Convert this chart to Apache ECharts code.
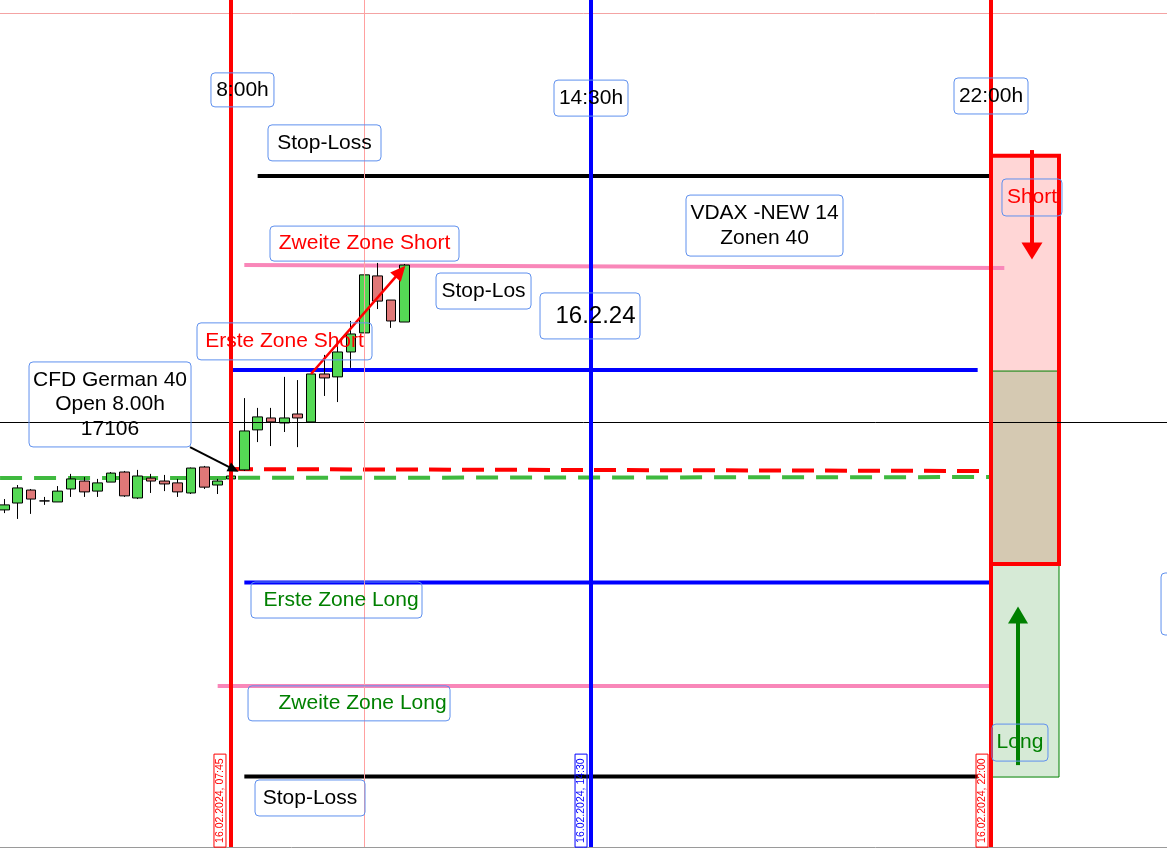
<!DOCTYPE html>
<html><head><meta charset="utf-8">
<script src="https://cdn.jsdelivr.net/npm/echarts@6/dist/echarts.min.js"></script>
<style>html,body{margin:0;padding:0;background:#fff}#c{width:1167px;height:857px}</style>
</head><body><div id="c"></div>
<script>
// ================= DATA =================
// 15-minute candles, CFD German 40, 16.02.2024
const candleTimes = ['03:30','03:45','04:00','04:15','04:30','04:45','05:00','05:15','05:30','05:45',
  '06:00','06:15','06:30','06:45','07:00','07:15','07:30','07:45','08:00','08:15','08:30','08:45',
  '09:00','09:15','09:30','09:45','10:00','10:15','10:30','10:45','11:00'];
const opens  = [17091.2,17093.8,17098.7,17094.6,17094.2,17099.1,17102.1,17098.3,17101.7,17105.5,
  17095.7,17103.2,17102.1,17101.4,17097.6,17107.4,17100.6,17102.9,17106.3,17121.4,17125.9,17124.0,
  17127.4,17124.4,17142.5,17141.4,17150.8,17158.0,17179.5,17170.4,17162.1];
const closes = [17093.1,17099.5,17095.3,17094.6,17098.3,17102.9,17098.0,17101.4,17105.1,17096.5,
  17104.0,17102.1,17101.0,17098.0,17107.0,17099.8,17102.1,17104.0,17121.0,17126.3,17124.4,17125.9,
  17125.9,17142.5,17141.0,17150.8,17157.6,17179.9,17170.0,17162.5,17183.6];
const lows   = [17090.0,17087.8,17089.7,17093.1,17094.2,17096.1,17096.1,17096.1,17101.7,17096.1,
  17095.3,17097.6,17098.3,17096.1,17097.2,17099.1,17097.2,17102.5,17105.9,17116.8,17115.3,17120.6,
  17114.9,17124.4,17134.2,17131.9,17144.8,17158.0,17167.0,17159.9,17162.1];
const highs  = [17095.3,17100.6,17099.1,17096.1,17100.2,17104.8,17103.6,17102.9,17105.5,17105.9,
  17106.3,17104.8,17104.4,17102.9,17107.2,17107.8,17102.9,17104.8,17133.4,17129.7,17129.7,17141.4,
  17140.2,17142.5,17149.7,17152.7,17162.5,17181.0,17184.4,17170.4,17184.0];

// horizontal levels (zones of 40 points, VDAX 14)
const levelNames      = ['Stop-Loss Short','Zweite Zone Short','Erste Zone Short','Open 8.00h','Vortag','Erste Zone Long','Zweite Zone Long','Stop-Loss Long'];
const levelStart      = ['08:15','08:00','07:45','07:45','03:25.2','08:00','07:30','08:00'];
const levelEnd        = ['22:00','22:15','21:45','21:47','22:00','22:00','22:00','21:45'];
const levelStartPrice = [17217.2,17183.6,17144.0,17106.6,17103.2,17063.8,17024.8,16990.6];
const levelEndPrice   = [17217.2,17182.5,17144.0,17105.9,17103.6,17063.8,17024.8,16990.6];

// vertical session lines
const sessionTimes = ['07:45','14:30','22:00'];
// crosshair
const crossTime = '10:15';
const crossPrice = 17124.4;
const topBorderPrice = 17278.7;

// right-hand zone panel
const panelTimes = ['22:00','23:16.5'];
const shortZone = [17224.8, 17070.8];
const longZone  = [17143.6, 16990.4];

// arrows
const arrowFromTime  = ['06:58.9','09:15','22:46.1','22:30.4'];
const arrowFromPrice = [17114.9,17142.5,17227.0,16994.9];
const arrowToTime    = ['07:48','10:55.6','22:46.1','22:30.4'];
const arrowToPrice   = [17106.5,17181.2,17188.9,17051.5];

// text notes
const noteTexts = ['8:00h','14:30h','22:00h','Stop-Loss','Zweite Zone Short','Stop-Los','16.2.24',
  'VDAX -NEW 14\nZonen 40','Erste Zone Short','CFD German 40\nOpen 8.00h\n17106','Erste Zone Long',
  'Zweite Zone Long','Stop-Loss','Short','Long',' ',
  '16.02.2024, 07:45','16.02.2024, 14:30','16.02.2024, 22:00'];
const noteTimes = ['07:57.9','14:30','22:00','09:30.2','10:15.2','12:29.1','14:28.9','17:45.2','08:45.2',
  '05:28.9','09:43.7','09:57.8','09:13.9','22:46.1','22:32.6','25:56.3','07:32.6','14:18.8','21:49.9'];
const notePrices = [17249.7,17246.6,17247.4,17229.7,17191.7,17173.8,17164.4,17198.5,17154.8,
  17131.0,17057.2,17018.2,16982.5,17209.1,17003.4,17055.7,16981.5,16981.5,16981.5];

// ================= CHART =================
function tm(s){const p=s.split(':');return Number(p[0])*60+Number(p[1]);}

const FONT = "'Liberation Sans', Arial, sans-serif";
const BOX = '#5f90ee';
const RED = '#ff0000', GREEN = '#008000', BLUE = '#0000ff';

const candleData = candleTimes.map((t,i)=>[tm(t),opens[i],closes[i],lows[i],highs[i]]);

const levelStyle = [
  {color:'#000000',width:4,type:'solid'},
  {color:'#f987b9',width:4,type:'solid'},
  {color:BLUE,width:4,type:'solid'},
  {color:RED,width:4,type:[22,11]},
  {color:'#3fb93f',width:4,type:[22,12]},
  {color:BLUE,width:4,type:'solid'},
  {color:'#f987b9',width:4,type:'solid'},
  {color:'#000000',width:4,type:'solid'}
];
const levelSeries = levelNames.map((n,i)=>({
  name:n, type:'line', z:2, silent:true, symbol:'none', animation:false,
  data:[[tm(levelStart[i]),levelStartPrice[i]],[tm(levelEnd[i]),levelEndPrice[i]]],
  lineStyle:levelStyle[i]
}));

const sessionColors = [RED, BLUE, RED];

const arrowStyle = [
  {color:'#000', width:2, size:[10,11]},
  {color:RED, width:2.5, size:[14,15]},
  {color:RED, width:4, size:[21,17]},
  {color:GREEN, width:4, size:[20,17]}
];

const noteStyle = [
  {w:63,h:34},{w:74,h:36},{w:74,h:36},{w:113,h:36},{w:189,h:35,c:RED},{w:95,h:36},
  {w:100,h:46,fs:24,pl:11},{w:157,h:61,lh:25},{w:175,h:37,c:RED},{w:162,h:85,lh:24.5},
  {w:171,h:36,c:GREEN,pl:9},{w:202,h:35,c:GREEN,pl:30,pr:3},{w:110,h:36},{w:60,h:37,c:RED},
  {w:56,h:37,c:GREEN},{w:80,h:62},
  {w:93,h:12,fs:10.5,c:RED,bc:RED,r:0,rot:90},
  {w:93,h:12,fs:10.5,c:BLUE,bc:BLUE,r:0,rot:90},
  {w:93,h:12,fs:10.5,c:RED,bc:RED,r:0,rot:90}
];
const noteData = noteTexts.map((txt,i)=>{
  const s = noteStyle[i];
  const lines = txt.split('\n').length;
  const lh = s.lh || s.h;
  const pv = (s.h - lines*lh)/2;
  const pl = s.pl||0, pr = s.pr||0;
  return {
    value:[tm(noteTimes[i]), notePrices[i]],
    label:{
      show:true, position:'inside', formatter:txt, opacity:1,
      color:s.c||'#000', fontSize:s.fs||21, fontFamily:FONT,
      width:s.w-pl-pr, lineHeight:lh, padding:[pv,pr,pv,pl],
      align:'center', verticalAlign:'middle',
      borderColor:s.bc||BOX, borderWidth:1, borderRadius:(s.r===undefined?4:s.r),
      rotate:s.rot||0, overflow:'none'
    }
  };
});

const option = {
  animation:false,
  backgroundColor:'#ffffff',
  grid:{left:0,right:0,top:0,bottom:10,containLabel:false},
  xAxis:{type:'value', min:205.125, max:1518,
    axisLabel:{show:false}, axisTick:{show:false}, splitLine:{show:false},
    axisLine:{show:true,onZero:false,lineStyle:{color:'#9a9a9a',width:1}}},
  yAxis:{type:'value', min:16964, max:17283.62,
    axisLabel:{show:false}, axisTick:{show:false}, splitLine:{show:false}, axisLine:{show:false}},
  series:[
    // right panel
    {type:'line', data:[], z:1, silent:true,
      markArea:{silent:true, data:[
        [{coord:[tm(panelTimes[0]),shortZone[0]],itemStyle:{color:'#ffd6d6',opacity:1}},{coord:[tm(panelTimes[1]),longZone[0]]}],
        [{coord:[tm(panelTimes[0]),longZone[0]],itemStyle:{color:'#d5c9b2',opacity:1}},{coord:[tm(panelTimes[1]),shortZone[1]]}],
        [{coord:[tm(panelTimes[0]),shortZone[1]],itemStyle:{color:'#d6ead6',opacity:1}},{coord:[tm(panelTimes[1]),longZone[1]]}],
        [{coord:[tm(panelTimes[0]),longZone[0]],itemStyle:{color:'rgba(0,0,0,0)',borderColor:GREEN,borderWidth:1,opacity:1}},{coord:[tm(panelTimes[1]),longZone[1]]}],
        [{coord:[tm(panelTimes[0]),shortZone[0]],itemStyle:{color:'rgba(0,0,0,0)',borderColor:RED,borderWidth:4,opacity:1}},{coord:[tm(panelTimes[1]),shortZone[1]]}]
      ]}},
    ...levelSeries,
    {type:'candlestick', name:'CFD German 40', z:3, silent:true, barWidth:10,
      encode:{x:0,y:[1,2,3,4]},
      data:candleData,
      itemStyle:{color:'#55d955',color0:'#e07878',borderColor:'#000',borderColor0:'#000',borderColorDoji:'#000',borderWidth:1}},
    // crosshair + top border + session lines
    {type:'line', data:[], z:4, silent:true,
      markLine:{silent:true, symbol:['none','none'], label:{show:false}, animation:false,
        data:[
          {yAxis:topBorderPrice, lineStyle:{color:'#f4a3a3',width:1,type:'solid'}},
          {yAxis:crossPrice, lineStyle:{color:'#000',width:1,type:'solid'}},
          {xAxis:tm(crossTime), lineStyle:{color:'#ffa0a0',width:1,type:'solid'}},
          ...sessionTimes.map((t,i)=>({xAxis:tm(t), lineStyle:{color:sessionColors[i],width:4,type:'solid'}}))
        ]}},
    // arrows
    {type:'line', data:[], z:5, silent:true,
      markLine:{silent:true, symbol:['none','triangle'], symbolSize:12, label:{show:false}, animation:false,
        data:arrowFromTime.map((t,i)=>[
          {coord:[tm(t),arrowFromPrice[i]], symbol:'none', lineStyle:{color:arrowStyle[i].color,width:arrowStyle[i].width,type:'solid'}},
          {coord:[tm(arrowToTime[i]),arrowToPrice[i]], symbol:'triangle', symbolSize:arrowStyle[i].size,
            itemStyle:{color:arrowStyle[i].color}}
        ])}},
    // notes
    {type:'scatter', z:6, silent:true, clip:false, symbolSize:1,
      itemStyle:{color:'rgba(0,0,0,0)', opacity:1},
      data:noteData}
  ]
};
const chart = echarts.init(document.getElementById('c'), null, {renderer:'canvas'});
chart.setOption(option);
</script></body></html>
